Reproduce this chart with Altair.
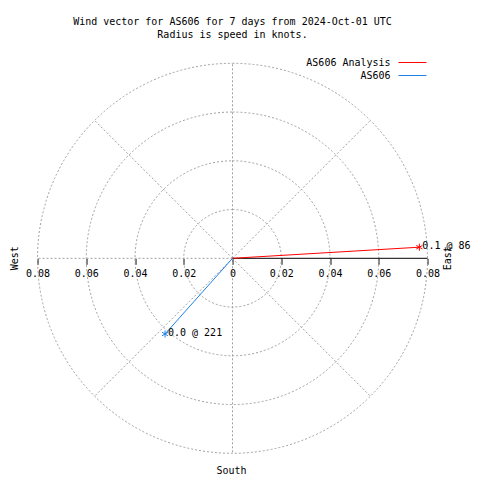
import math
import altair as alt
import pandas as pd

# ---- data ----
series = ["AS606 Analysis", "AS606"]
colors = ["#ff0000", "#1e82e6"]
speed = [0.0768, 0.0416]          # knots (radius)
direction = [86.6, 221.7]         # degrees clockwise from north
labels = ["0.1 @ 86", "0.0 @ 221"]

ring_radii = [0.02, 0.04, 0.06, 0.08]
spoke_angles = [0, 45, 135, 180, 225, 270, 315]
tick_values = [-0.08, -0.06, -0.04, -0.02, 0, 0.02, 0.04, 0.06, 0.08]
title_lines = ["Wind vector for AS606 for 7 days from 2024-Oct-01 UTC",
               "Radius is speed in knots."]
RMAX = 0.08

FONT = "DejaVu Sans Mono"
GRID = "#a0a0a0"

vec = pd.DataFrame({
    "series": series,
    "speed": speed,
    "dir": direction,
    "label": labels,
})
vec["u"] = [s * math.sin(math.radians(d)) for s, d in zip(speed, direction)]
vec["v"] = [s * math.cos(math.radians(d)) for s, d in zip(speed, direction)]
vec["x0"] = 0.0
vec["y0"] = 0.0

rings = pd.DataFrame({"r": ring_radii})
spokes = pd.DataFrame({"a": spoke_angles})
spokes["x0"] = 0.0
spokes["y0"] = 0.0
spokes["x1"] = [RMAX * math.sin(math.radians(a)) for a in spoke_angles]
spokes["y1"] = [RMAX * math.cos(math.radians(a)) for a in spoke_angles]
east = pd.DataFrame({"x0": [0.0], "x1": [RMAX], "y0": [0.0]})

xscale = alt.Scale(domain=[-RMAX, RMAX], nice=False, zero=False)
yscale = alt.Scale(domain=[-RMAX, RMAX], nice=False, zero=False)
cscale = alt.Scale(domain=series, range=colors)

xaxis = alt.Axis(
    values=tick_values, offset=-195, domain=False, grid=False, title=None,
    tickColor="black", tickSize=6, labelFont=FONT, labelFontSize=10,
    labelColor="black", labelPadding=4, labelFlush=False, labelOverlap=False,
    labelExpr="datum.value == 0 ? '0' : format(abs(datum.value), '.2f')",
)

ring_layer = alt.Chart(rings).mark_arc(
    theta=0, theta2=2 * math.pi, filled=False, stroke=GRID,
    strokeWidth=1, strokeDash=[2, 2],
).encode(
    radius=alt.Radius("r:Q", stack=None,
                      scale=alt.Scale(type="linear", domain=[0, RMAX],
                                      range=[0, 195], zero=True))
)

spoke_layer = alt.Chart(spokes).mark_rule(
    color=GRID, strokeWidth=1, strokeDash=[2, 2]
).encode(
    x=alt.X("x0:Q", scale=xscale, axis=xaxis),
    y=alt.Y("y0:Q", scale=yscale, axis=None),
    x2="x1:Q", y2="y1:Q",
)

east_layer = alt.Chart(east).mark_rule(color="black", strokeWidth=1).encode(
    x=alt.X("x0:Q", scale=xscale), x2="x1:Q",
    y=alt.Y("y0:Q", scale=yscale),
)

vec_layer = alt.Chart(vec).mark_rule(strokeWidth=1).encode(
    x=alt.X("x0:Q", scale=xscale), y=alt.Y("y0:Q", scale=yscale),
    x2="u:Q", y2="v:Q",
    color=alt.Color("series:N", scale=cscale, legend=None),
)

star = "M0,-1L0,1M-0.87,-0.5L0.87,0.5M-0.87,0.5L0.87,-0.5"
star_layer = alt.Chart(vec).mark_point(
    shape=star, filled=False, size=50, strokeWidth=1, opacity=1
).encode(
    x=alt.X("u:Q", scale=xscale), y=alt.Y("v:Q", scale=yscale),
    color=alt.Color("series:N", scale=cscale, legend=None),
)

label_layer = alt.Chart(vec).mark_text(
    align="left", baseline="middle", dx=3, dy=-1, font=FONT, fontSize=10,
    color="black",
).encode(
    x=alt.X("u:Q", scale=xscale), y=alt.Y("v:Q", scale=yscale),
    text="label:N",
)

compass = pd.DataFrame({"t": ["West", "East", "South"]})
west_t = alt.Chart(compass).transform_filter("datum.t == 'West'").mark_text(
    font=FONT, fontSize=10, angle=270, align="center", baseline="middle",
    color="black").encode(x=alt.value(-23), y=alt.value(195), text="t:N")
east_t = alt.Chart(compass).transform_filter("datum.t == 'East'").mark_text(
    font=FONT, fontSize=10, angle=270, align="center", baseline="middle",
    color="black").encode(x=alt.value(410.5), y=alt.value(195), text="t:N")
south_t = alt.Chart(compass).transform_filter("datum.t == 'South'").mark_text(
    font=FONT, fontSize=10, align="center", baseline="middle",
    color="black").encode(x=alt.value(194), y=alt.value(408), text="t:N")

legend_layers = []
for i, (name, col) in enumerate(zip(series, colors)):
    ly = -0.8 + 13 * i
    d = pd.DataFrame({"series": [name]})
    legend_layers.append(
        alt.Chart(d).mark_text(font=FONT, fontSize=10, align="right",
                               baseline="middle", color="black", dy=1)
        .encode(x=alt.value(353), y=alt.value(ly), text="series:N"))
    legend_layers.append(
        alt.Chart(d).mark_rule(color=col, strokeWidth=1)
        .encode(x=alt.value(361), x2=alt.value(389), y=alt.value(ly)))

chart = alt.layer(
    ring_layer, spoke_layer, east_layer, vec_layer, star_layer, label_layer,
    west_t, east_t, south_t, *legend_layers,
).properties(
    width=390, height=390,
    title=alt.TitleParams(
        text=title_lines, font=FONT, fontSize=10, fontWeight="normal",
        color="black", anchor="middle", frame="group", offset=18, lineHeight=13,
    ),
    autosize=alt.AutoSizeParams(type="none"),
    padding={"left": 29.5, "top": 55.3, "right": 44, "bottom": 25},
    background="white",
).configure_view(stroke=None)

chart.save("out.html", embed_options={"renderer": "svg", "actions": False})
